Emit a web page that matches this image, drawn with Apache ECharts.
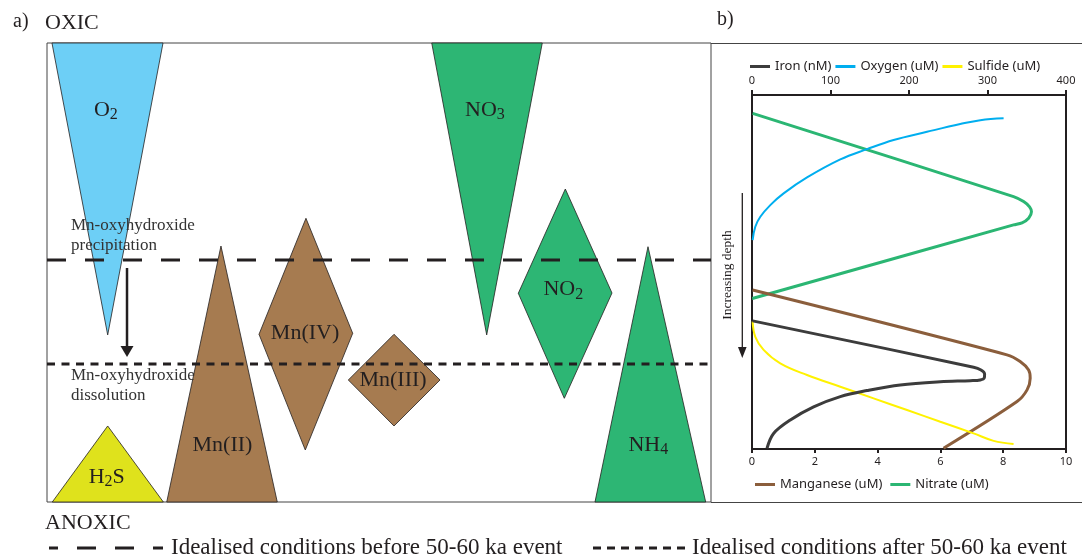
<!DOCTYPE html>
<html><head><meta charset="utf-8">
<script src="https://cdn.jsdelivr.net/npm/echarts@6/dist/echarts.min.js"></script>
<style>html,body{margin:0;padding:0;background:#fff}#c{width:1082px;height:559px}</style>
</head><body><div id="c"></div>
<script>
// ---------- Panel a: idealised redox zonation (position 0-100, depth 0-100) ----------
const shapeNames = ['O2', 'NO3', 'NO2', 'NH4', 'H2S', 'Mn(II)', 'Mn(IV)', 'Mn(III)'];
const shapeXs = [
  [0.75, 17.47, 9.14],
  [57.94, 74.59, 66.22],
  [78.06, 85.09, 77.91, 70.98],
  [90.51, 99.2, 82.53],
  [9.14, 17.52, 0.80],
  [26.2, 34.68, 18.03],
  [39.0, 46.04, 38.9, 31.93],
  [52.26, 59.19, 52.26, 45.38]
];
const shapeYs = [
  [0, 0, 63.6],
  [0, 0, 63.6],
  [31.81, 54.47, 77.41, 54.53],
  [44.38, 100, 100],
  [83.44, 100, 100],
  [44.23, 100, 100],
  [38.19, 63.25, 88.67, 63.46],
  [63.46, 73.42, 83.44, 73.42]
];
const labelX = [8.86, 65.96, 77.76, 90.56, 8.99, 26.43, 38.86, 52.11];
const labelY = [14.6, 14.6, 53.7, 87.6, 94.5, 87.6, 63.2, 73.4];
const levelBefore = 47.28;   // Mn-oxyhydroxide precipitation (before event)
const levelAfter = 69.93;    // Mn-oxyhydroxide dissolution (after event)
const shiftArrowX = [12.05, 12.05];
const shiftArrowY = [49.02, 68.41];

// ---------- Panel b: profiles (depth 0-100, increasing downward) ----------
const ironConc = [0.8, 282.3, 291.7, 296.3, 295.9, 290.8, 278.1, 239.9, 188.9, 146.5, 112.5, 78.5, 48.8, 27.5, 19.1];
const ironDepth = [63.8, 76.9, 77.7, 78.8, 79.9, 80.5, 80.7, 81.0, 81.9, 83.5, 85.2, 88.1, 91.8, 95.6, 99.8];
const oxygenConc = [0.8, 4.2, 10.6, 23.3, 40.3, 70.1, 112.5, 146.5, 180.4, 222.9, 265.3, 290.8, 320.5];
const oxygenDepth = [41.0, 37.2, 34.4, 31.1, 27.8, 23.3, 18.2, 15.3, 12.7, 10.4, 8.2, 7.1, 6.6];
const sulfideConc = [0.8, 4.2, 14.8, 36.0, 70.1, 112.5, 154.9, 197.5, 239.9, 282.3, 307.8, 333.2];
const sulfideDepth = [64.0, 68.3, 72.0, 75.8, 79.1, 82.4, 85.7, 89.0, 92.3, 95.6, 97.7, 98.6];
const manganeseConc = [0.02, 8.12, 8.54, 8.81, 8.86, 8.76, 8.44, 6.10];
const manganeseDepth = [55.1, 73.4, 75.3, 77.7, 80.0, 83.3, 86.6, 99.8];
const nitrateConc = [0.02, 8.33, 8.65, 8.84, 8.90, 8.81, 8.60, 8.33, 0.01];
const nitrateDepth = [5.2, 28.7, 30.1, 31.6, 33.0, 34.8, 36.1, 36.7, 57.5];
const topTicks = [0, 100, 200, 300, 400];
const bottomTicks = [0, 2, 4, 6, 8, 10];

// ---------- styles ----------
const SERIF = 'Liberation Serif';
const SANS = 'Noto Sans';
const INK = '#231f20';
const shapeFill = ['#6dcff6', '#2db674', '#2db674', '#2db674', '#dfe21c', '#a67b50', '#a67b50', '#a67b50'];
const MAIN_FONT = '22px "Liberation Serif"';
const SUB_FONT = '16px "Liberation Serif"';

const measureCtx = document.createElement('canvas').getContext('2d');
function textWidth(t, font) { measureCtx.font = font; return measureCtx.measureText(t).width; }
function labelParts(name) {
  return name.split(/(\d)/).filter(s => s.length).map(s => ({ text: s, sub: /\d/.test(s) }));
}
const zip = (a, b) => a.map((v, i) => [v, b[i]]);

const chart = echarts.init(document.getElementById('c'));
const option = {
  animation: false,
  backgroundColor: '#fff',
  grid: [
    { left: 47, top: 43, width: 664, height: 459, show: true, borderColor: '#444', borderWidth: 1, backgroundColor: 'transparent' },
    { left: 752, top: 95, width: 314, height: 354, show: true, borderColor: INK, borderWidth: 2, backgroundColor: 'transparent' }
  ],
  xAxis: [
    { gridIndex: 0, type: 'value', min: 0, max: 100, show: false },
    { gridIndex: 1, type: 'value', min: 0, max: 400, interval: 100, position: 'top',
      axisLine: { show: true, lineStyle: { color: INK, width: 2 } },
      axisTick: { show: true, length: 5, lineStyle: { color: INK, width: 2 } },
      axisLabel: { color: INK, fontFamily: SANS, fontSize: 11, margin: 9,
        formatter: v => topTicks.includes(v) ? String(v) : '' },
      splitLine: { show: false } },
    { gridIndex: 1, type: 'value', min: 0, max: 10, interval: 2, position: 'bottom',
      axisLine: { show: true, lineStyle: { color: INK, width: 2 } },
      axisTick: { show: true, length: 4, lineStyle: { color: INK, width: 2 } },
      axisLabel: { color: INK, fontFamily: SANS, fontSize: 11, margin: 7,
        formatter: v => bottomTicks.includes(v) ? String(v) : '' },
      splitLine: { show: false } }
  ],
  yAxis: [
    { gridIndex: 0, type: 'value', min: 0, max: 100, inverse: true, show: false },
    { gridIndex: 1, type: 'value', min: 0, max: 100, inverse: true, show: false }
  ],
  legend: [
    { data: ['Iron (nM)', 'Oxygen (uM)', 'Sulfide (uM)'], left: 745, top: 55, icon: 'rect',
      itemWidth: 20, itemHeight: 3, itemGap: 4, textStyle: { color: INK, fontFamily: SANS, fontSize: 13 } },
    { data: ['Manganese (uM)', 'Nitrate (uM)'], left: 750, top: 473, icon: 'rect',
      itemWidth: 20, itemHeight: 3, itemGap: 8, textStyle: { color: INK, fontFamily: SANS, fontSize: 13 } }
  ],
  series: [
    {
      type: 'custom', name: 'zones', xAxisIndex: 0, yAxisIndex: 0, z: 2, silent: true,
      data: shapeNames.map((n, i) => [i]),
      renderItem: function (params, api) {
        const i = api.value(0);
        const pts = shapeXs[i].map((x, k) => api.coord([x, shapeYs[i][k]]));
        const lp = api.coord([labelX[i], labelY[i]]);
        const parts = labelParts(shapeNames[i]);
        const widths = parts.map(p => textWidth(p.text, p.sub ? SUB_FONT : MAIN_FONT));
        const total = widths.reduce((a, b) => a + b, 0);
        let cx = lp[0] - total / 2;
        const children = [
          { type: 'polygon', shape: { points: pts }, style: { fill: shapeFill[i], stroke: INK, lineWidth: 0.8 } }
        ];
        parts.forEach((p, k) => {
          children.push({ type: 'text', x: cx, y: lp[1] + (p.sub ? 5 : 0), style: {
            text: p.text, font: p.sub ? SUB_FONT : MAIN_FONT, fill: INK,
            align: 'left', verticalAlign: 'middle' } });
          cx += widths[k];
        });
        return { type: 'group', children };
      }
    },
    {
      type: 'line', name: 'before', xAxisIndex: 0, yAxisIndex: 0, z: 4, silent: true, showSymbol: false,
      data: [[0, levelBefore], [100, levelBefore]],
      lineStyle: { color: INK, width: 3, type: [19, 19] }
    },
    {
      type: 'line', name: 'after', xAxisIndex: 0, yAxisIndex: 0, z: 4, silent: true, showSymbol: false,
      data: [[0, levelAfter], [100, levelAfter]],
      lineStyle: { color: INK, width: 3, type: [8, 6.5] }
    },
    {
      type: 'custom', name: 'shift', xAxisIndex: 0, yAxisIndex: 0, z: 5, silent: true,
      data: [[0]],
      renderItem: function (params, api) {
        const a = api.coord([shiftArrowX[0], shiftArrowY[0]]);
        const b = api.coord([shiftArrowX[1], shiftArrowY[1]]);
        return { type: 'group', children: [
          { type: 'line', shape: { x1: a[0], y1: a[1], x2: b[0], y2: b[1] - 8 }, style: { stroke: INK, lineWidth: 2.5 } },
          { type: 'polygon', shape: { points: [[b[0] - 6.5, b[1] - 11], [b[0] + 6.5, b[1] - 11], [b[0], b[1]]] }, style: { fill: INK } }
        ] };
      }
    },
    { type: 'line', name: 'Nitrate (uM)', xAxisIndex: 2, yAxisIndex: 1, data: zip(nitrateConc, nitrateDepth),
      showSymbol: false, smooth: 0.3, color: '#2bb673', lineStyle: { width: 3 } },
    { type: 'line', name: 'Oxygen (uM)', xAxisIndex: 1, yAxisIndex: 1, data: zip(oxygenConc, oxygenDepth),
      showSymbol: false, smooth: 0.4, color: '#00aeef', lineStyle: { width: 2 } },
    { type: 'line', name: 'Manganese (uM)', xAxisIndex: 2, yAxisIndex: 1, data: zip(manganeseConc, manganeseDepth),
      showSymbol: false, smooth: 0.3, color: '#8b5e3c', lineStyle: { width: 3 } },
    { type: 'line', name: 'Sulfide (uM)', xAxisIndex: 1, yAxisIndex: 1, data: zip(sulfideConc, sulfideDepth),
      showSymbol: false, smooth: 0.4, color: '#fff200', lineStyle: { width: 2 } },
    { type: 'line', name: 'Iron (nM)', xAxisIndex: 1, yAxisIndex: 1, data: zip(ironConc, ironDepth),
      showSymbol: false, smooth: 0.35, color: '#3c3c3c', lineStyle: { width: 3 } }
  ],
  graphic: [
    { type: 'text', x: 13, y: 22, z: 10, style: { text: 'a)', font: '20px "Liberation Serif"', fill: INK, textAlign: 'left', textVerticalAlign: 'middle', align: 'left', verticalAlign: 'middle' } },
    { type: 'text', x: 45, y: 23, z: 10, style: { text: 'OXIC', font: '22px "Liberation Serif"', fill: INK, textAlign: 'left', textVerticalAlign: 'middle', align: 'left', verticalAlign: 'middle' } },
    { type: 'text', x: 717, y: 20, z: 10, style: { text: 'b)', font: '20px "Liberation Serif"', fill: INK, textAlign: 'left', textVerticalAlign: 'middle', align: 'left', verticalAlign: 'middle' } },
    { type: 'text', x: 45, y: 523, z: 10, style: { text: 'ANOXIC', font: '22px "Liberation Serif"', fill: INK, textAlign: 'left', textVerticalAlign: 'middle', align: 'left', verticalAlign: 'middle' } },
    { type: 'text', x: 71, y: 236, z: 10, style: { text: 'Mn-oxyhydroxide\nprecipitation', font: '17px "Liberation Serif"', lineHeight: 20, fill: '#333', textAlign: 'left', textVerticalAlign: 'middle', align: 'left', verticalAlign: 'middle' } },
    { type: 'text', x: 71, y: 386, z: 10, style: { text: 'Mn-oxyhydroxide\ndissolution', font: '17px "Liberation Serif"', lineHeight: 20, fill: '#333', textAlign: 'left', textVerticalAlign: 'middle', align: 'left', verticalAlign: 'middle' } },
    // panel b frame extension
    { type: 'line', z: 1, shape: { x1: 711, y1: 43.5, x2: 1082, y2: 43.5 }, style: { stroke: '#444', lineWidth: 1 } },
    { type: 'line', z: 1, shape: { x1: 711, y1: 502.5, x2: 1082, y2: 502.5 }, style: { stroke: '#444', lineWidth: 1 } },
    // increasing depth
    { type: 'text', x: 727, y: 275, rotation: Math.PI / 2, z: 10, style: { text: 'Increasing depth', font: '13.5px "Liberation Serif"', fill: INK, textAlign: 'center', textVerticalAlign: 'middle', align: 'center', verticalAlign: 'middle' } },
    { type: 'line', z: 10, shape: { x1: 742.3, y1: 193, x2: 742.3, y2: 350 }, style: { stroke: INK, lineWidth: 1.3 } },
    { type: 'polygon', z: 10, shape: { points: [[738, 347], [746.6, 347], [742.3, 358]] }, style: { fill: INK } },
    // bottom legend
    { type: 'line', z: 10, shape: { x1: 49, y1: 548, x2: 163, y2: 548 }, style: { stroke: INK, lineWidth: 3, lineDash: [19, 19], lineDashOffset: 10 } },
    { type: 'text', x: 171, y: 548, z: 10, style: { text: 'Idealised conditions before 50-60 ka event', font: '23px "Liberation Serif"', fill: INK, textAlign: 'left', textVerticalAlign: 'middle', align: 'left', verticalAlign: 'middle' } },
    { type: 'line', z: 10, shape: { x1: 593, y1: 548, x2: 686, y2: 548 }, style: { stroke: INK, lineWidth: 3, lineDash: [8, 6] } },
    { type: 'text', x: 692, y: 548, z: 10, style: { text: 'Idealised conditions after 50-60 ka event', font: '23px "Liberation Serif"', fill: INK, textAlign: 'left', textVerticalAlign: 'middle', align: 'left', verticalAlign: 'middle' } }
  ]
};
chart.setOption(option);
</script>
</body></html>
